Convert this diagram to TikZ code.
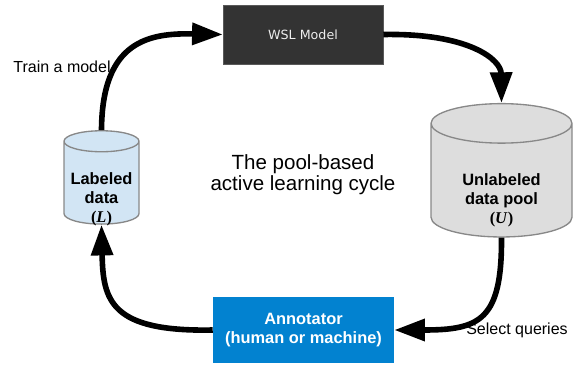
\documentclass[tikz,border=0pt]{standalone}
\usepackage{fontspec}
\setmainfont{Liberation Serif}
\setsansfont{Liberation Sans}
\newfontfamily\wslfont{DejaVu Sans}
\usetikzlibrary{shapes.geometric,arrows.meta}
\definecolor{wslgray}{HTML}{333333}
\definecolor{labblue}{HTML}{D2E5F4}
\definecolor{poolgray}{HTML}{DDDDDD}
\definecolor{annblue}{HTML}{0282D0}
\definecolor{edgegray}{HTML}{888888}

\begin{document}
\begin{tikzpicture}[x=0.75pt,y=-0.75pt,>={Triangle[length=23pt,width=16pt]},
  flow/.style={->,line width=4.2pt},
  box/.style={rectangle,inner sep=0pt,align=center},
  store/.style={cylinder,shape border rotate=90,shape aspect=0.28,inner sep=0pt,draw=edgegray,line width=1pt},
  boldtxt/.style={font=\sffamily\bfseries\fontsize{12.3}{14.2}\selectfont,align=center},
  txt/.style={font=\sffamily\fontsize{12}{14}\selectfont}]
\useasboundingbox (0,0) rectangle (573,364);

\node[box,fill=wslgray,draw=gray!70!black,minimum width=120pt,minimum height=44.25pt,
  text=white!93!black,font=\wslfont\fontsize{9.5}{11}\selectfont] (wsl) at (303,34.5) {WSL Model};
\node[box,fill=annblue,minimum width=135.75pt,minimum height=49.5pt,text=white,boldtxt] (ann) at (303.5,330) {Annotator\\(human or machine)};

\node[store,fill=labblue,text width=56.25pt,minimum height=70pt,
  label={[boldtxt,name=labtxt,yshift=-12pt]center:{Labeled\\data\\{\rmfamily(\textit{L})}}}] (lab) at (101.5,183) {};
\node[store,fill=poolgray,text width=105.75pt,minimum height=100pt,
  label={[boldtxt,name=pooltxt,yshift=-15pt]center:{Unlabeled\\data pool\\{\rmfamily(\textit{U})}}}] (pool) at (501.5,180.5) {};

\node[font=\sffamily\fontsize{15.4}{16}\selectfont,align=center] (cycle) at (303,175) {The pool-based\\active learning cycle};
\node[txt] (train) at (62,67) {Train a model};
\node[txt] (sel) at (517,330) {Select queries};

% the cycle
\draw[flow] (lab.north) .. controls (102,40) and (150,33) .. (wsl.west);
\draw[flow] (wsl.east) .. controls (470,33) and (501,60) .. (pool.north);
\draw[flow] (pool.south) .. controls (502,320) and (480,330) .. (ann.east);
\draw[flow] (ann.west) .. controls (110,332) and (103,300) .. (lab.south);
\end{tikzpicture}
\end{document}
